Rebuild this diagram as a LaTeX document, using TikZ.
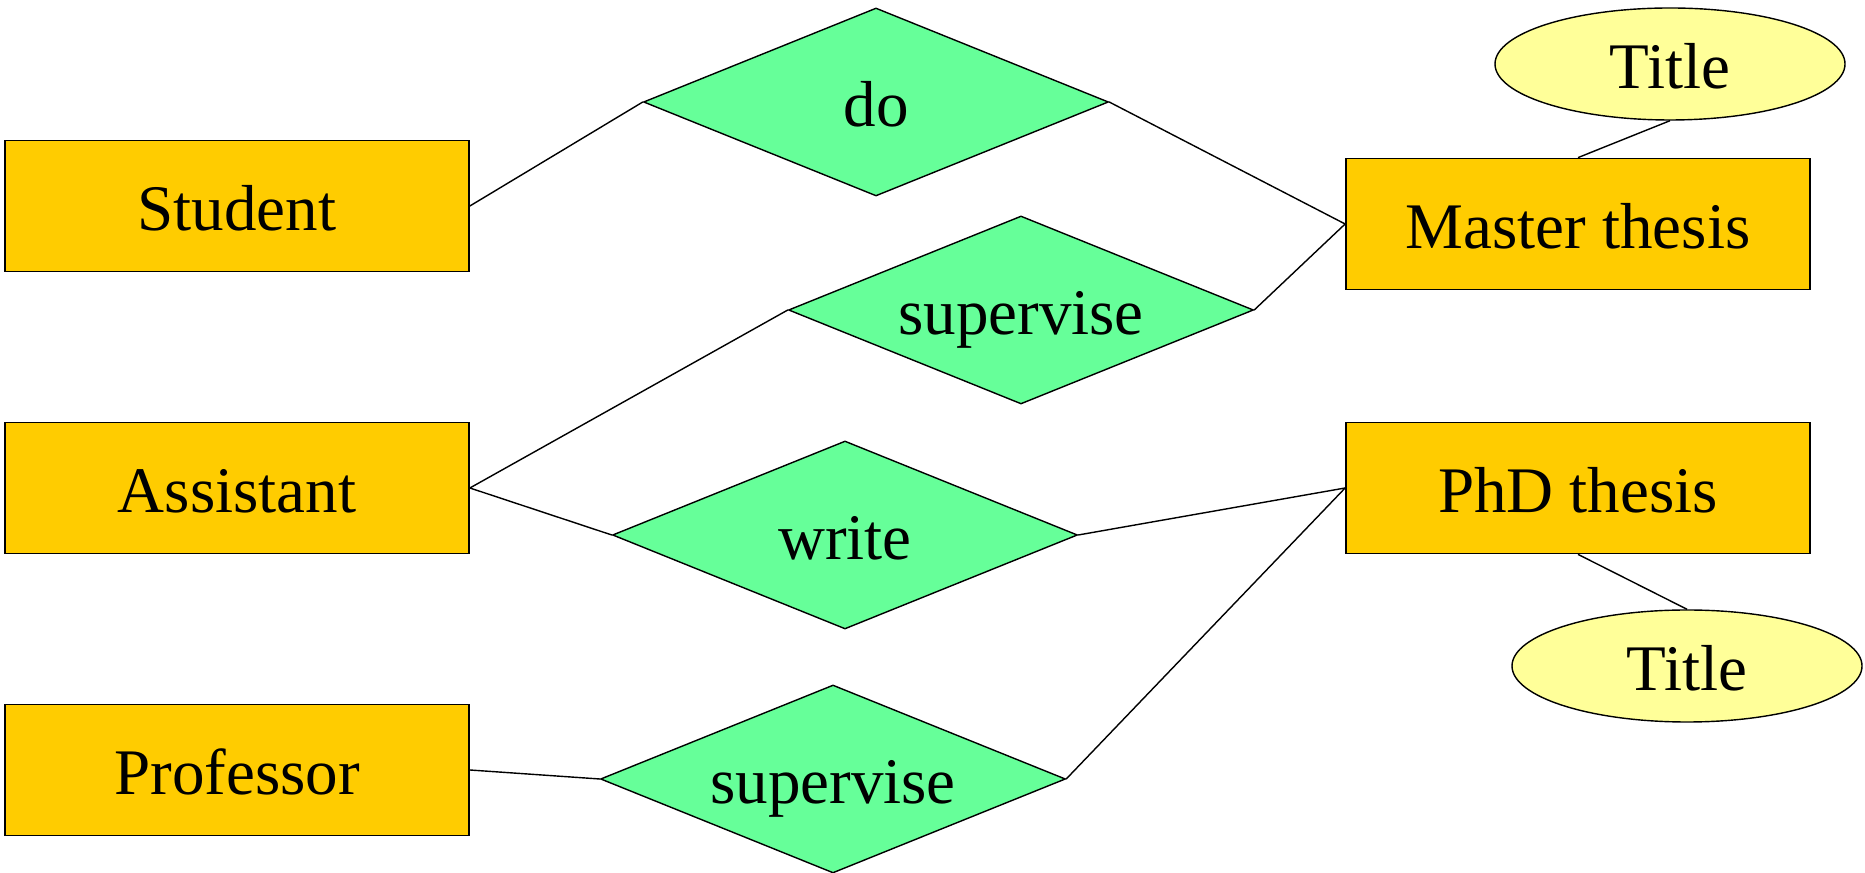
\documentclass[tikz,border=0pt]{standalone}
\usepackage{fontspec}
\setmainfont{Liberation Serif}
\usetikzlibrary{shapes.geometric}
\definecolor{entfill}{HTML}{FFCC00}
\definecolor{relfill}{HTML}{66FF99}
\definecolor{attfill}{HTML}{FFFF99}
\begin{document}
\begin{tikzpicture}[
  entity/.style={rectangle,fill=entfill,draw,line width=0.5pt,minimum width=4.64cm,minimum height=1.31cm,inner sep=0pt,text height=0.5cm,text depth=0pt,font=\fontsize{18.5}{22}\selectfont},
  relation/.style={diamond,fill=relfill,draw,line width=0.4pt,aspect=2.47,minimum width=4.65cm,minimum height=1.88cm,inner sep=0pt,text height=0.5cm,text depth=0pt,font=\fontsize{18.5}{22}\selectfont},
  attribute/.style={ellipse,fill=attfill,draw,line width=0.4pt,minimum width=3.5cm,minimum height=1.12cm,inner sep=0pt,text height=0.5cm,text depth=0pt,font=\fontsize{18.5}{22}\selectfont},
  line width=0.4pt]
  \useasboundingbox (0,0) rectangle (18.65,-8.73);

  \node[entity] (student) at (2.37,-2.06) {Student};
  \node[entity] (assistant) at (2.37,-4.88) {Assistant};
  \node[entity] (professor) at (2.37,-7.70) {Professor};
  \node[entity] (master) at (15.78,-2.24) {Master thesis};
  \node[entity] (phd) at (15.78,-4.88) {PhD thesis};

  \node[attribute] (title1) at (16.70,-0.64) {Title};
  \node[attribute] (title2) at (16.87,-6.66) {Title};

  \node[relation] (do) at (8.76,-1.02) {do};
  \node[relation] (sup1) at (10.21,-3.10) {supervise};
  \node[relation] (write) at (8.45,-5.35) {write};
  \node[relation] (sup2) at (8.33,-7.79) {supervise};

  \draw (student.east) -- (do.west);
  \draw (do.east) -- (master.west);
  \draw (assistant.east) -- (sup1.west);
  \draw (sup1.east) -- (master.west);
  \draw (assistant.east) -- (write.west);
  \draw (write.east) -- (phd.west);
  \draw (professor.east) -- (sup2.west);
  \draw (sup2.east) -- (phd.west);
  \draw (master.north) -- (title1.south);
  \draw (phd.south) -- (title2.north);
\end{tikzpicture}
\end{document}
